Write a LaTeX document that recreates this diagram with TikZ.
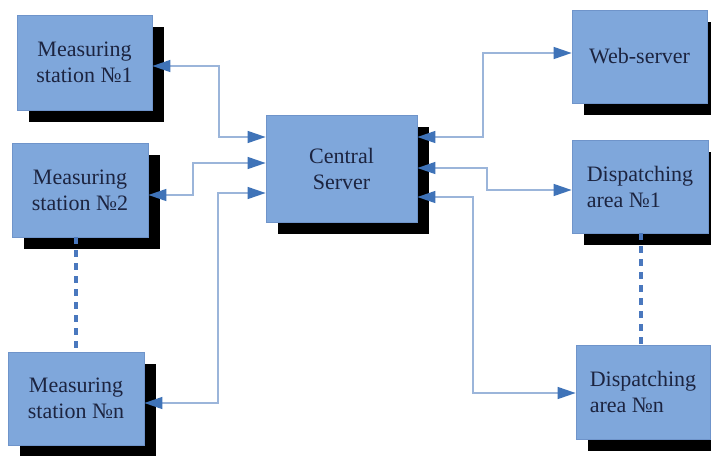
\documentclass[tikz,border=0pt]{standalone}
\usepackage{fontspec}
\setmainfont{Liberation Serif}
\newfontfamily\tnr{Liberation Serif}
\usetikzlibrary{arrows.meta,shadows}
\definecolor{boxfill}{HTML}{7FA7DB}
\definecolor{boxdraw}{HTML}{6F94CA}
\definecolor{conncol}{HTML}{9BB5DA}
\definecolor{tipcol}{HTML}{3F73B8}
\definecolor{txtcol}{HTML}{1C2440}
\definecolor{dashcol}{HTML}{4A78BE}
\begin{document}
\begin{tikzpicture}[x=1pt,y=1pt,
  blk/.style={draw=boxdraw, line width=0.8pt, fill=boxfill, text=txtcol,
    font=\tnr\fontsize{22}{26}\selectfont, inner sep=0pt, align=center,
    drop shadow={shadow xshift=12pt, shadow yshift=-12pt, fill=black, opacity=1}},
  tipx/.tip={Triangle[length=18pt,width=12pt,color=tipcol]},
  conn/.style={draw=conncol, line width=1.4pt, tipx-tipx},
  dots/.style={draw=dashcol, line width=4pt, dash pattern=on 7pt off 6pt}]
\useasboundingbox (0,0) rectangle (711,-455);
\fill[white] (0,0) rectangle (711,-455);
% boxes
\node[blk, minimum width=135pt, minimum height=95pt] (M1) at (84.5,-62.5) {Measuring\\station №1};
\node[blk, minimum width=136pt, minimum height=94pt] (M2) at (80,-190) {Measuring\\station №2};
\node[blk, minimum width=136pt, minimum height=93pt] (Mn) at (76,-398.5) {Measuring\\station №n};
\node[blk, minimum width=151pt, minimum height=107pt] (C) at (341.5,-168.5) {Central\\Server};
\node[blk, minimum width=135pt, minimum height=93pt] (W) at (639.5,-56.5) {Web-server};
\node[blk, align=left, minimum width=136pt, minimum height=93pt] (D1) at (640,-186.5) {Dispatching\\area №1};
\node[blk, align=left, minimum width=134pt, minimum height=94pt] (Dn) at (643,-392) {Dispatching\\area №n};
% dashed continuations
\draw[dots] (M2.south -| 76,0) -- (Mn.north -| 76,0);
\draw[dots] (D1.south -| 641,0) -- (Dn.north -| 641,0);
% connectors left
\draw[conn] (M1.east |- 0,-66) -| (219,-137) -- (C.west |- 0,-137);
\draw[conn] (M2.east |- 0,-195) -| (193,-163) -- (C.west |- 0,-163);
\draw[conn] (Mn.east |- 0,-403) -| (218,-193) -- (C.west |- 0,-193);
% connectors right
\draw[conn] (C.east |- 0,-137) -| (483,-53) -- (W.west |- 0,-53);
\draw[conn] (C.east |- 0,-168) -| (487,-190) -- (D1.west |- 0,-190);
\draw[conn] (C.east |- 0,-197) -| (473,-393) -- (Dn.west |- 0,-393);
\end{tikzpicture}
\end{document}
